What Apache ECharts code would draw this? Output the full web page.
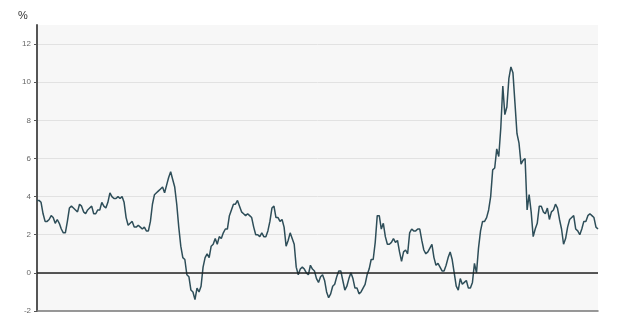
<!DOCTYPE html>
<html>
<head>
<meta charset="utf-8">
<script src="https://cdn.jsdelivr.net/npm/echarts@6/dist/echarts.min.js"></script>
<style>
html,body{margin:0;padding:0;background:#fff;overflow:hidden;}
#c{position:absolute;left:0;top:0;width:617px;height:313px;overflow:hidden;}
</style>
</head>
<body>
<div id="c"></div>
<script>
// Monthly values, Jan 2003 – Feb 2026 (%)
const startYear = 2003;
const v2003 = [3.8, 3.8, 3.7, 3.1, 2.7, 2.7, 2.8, 3.0, 2.9, 2.6, 2.8, 2.6];
const v2004 = [2.3, 2.1, 2.1, 2.7, 3.4, 3.5, 3.4, 3.3, 3.2, 3.6, 3.5, 3.2];
const v2005 = [3.1, 3.3, 3.4, 3.5, 3.1, 3.1, 3.3, 3.3, 3.7, 3.5, 3.4, 3.7];
const v2006 = [4.2, 4.0, 3.9, 3.9, 4.0, 3.9, 4.0, 3.7, 2.9, 2.5, 2.6, 2.7];
const v2007 = [2.4, 2.4, 2.5, 2.4, 2.3, 2.4, 2.2, 2.2, 2.7, 3.6, 4.1, 4.2];
const v2008 = [4.3, 4.4, 4.5, 4.2, 4.6, 5.0, 5.3, 4.9, 4.5, 3.6, 2.4, 1.4];
const v2009 = [0.8, 0.7, -0.1, -0.2, -0.9, -1.0, -1.4, -0.8, -1.0, -0.7, 0.3, 0.8];
const v2010 = [1.0, 0.8, 1.4, 1.5, 1.8, 1.5, 1.9, 1.8, 2.1, 2.3, 2.3, 3.0];
const v2011 = [3.3, 3.6, 3.6, 3.8, 3.5, 3.2, 3.1, 3.0, 3.1, 3.0, 2.9, 2.4];
const v2012 = [2.0, 2.0, 1.9, 2.1, 1.9, 1.9, 2.2, 2.7, 3.4, 3.5, 2.9, 2.9];
const v2013 = [2.7, 2.8, 2.4, 1.4, 1.7, 2.1, 1.8, 1.5, 0.3, -0.1, 0.2, 0.3];
const v2014 = [0.2, 0.0, -0.1, 0.4, 0.2, 0.1, -0.3, -0.5, -0.2, -0.1, -0.4, -1.0];
const v2015 = [-1.3, -1.1, -0.7, -0.6, -0.2, 0.1, 0.1, -0.4, -0.9, -0.7, -0.3, 0.0];
const v2016 = [-0.3, -0.8, -0.8, -1.1, -1.0, -0.8, -0.6, -0.1, 0.2, 0.7, 0.7, 1.6];
const v2017 = [3.0, 3.0, 2.3, 2.6, 1.9, 1.5, 1.5, 1.6, 1.8, 1.6, 1.7, 1.1];
const v2018 = [0.6, 1.1, 1.2, 1.0, 2.1, 2.3, 2.2, 2.2, 2.3, 2.3, 1.7, 1.2];
const v2019 = [1.0, 1.1, 1.3, 1.5, 0.8, 0.4, 0.5, 0.3, 0.1, 0.1, 0.4, 0.8];
const v2020 = [1.1, 0.7, 0.0, -0.7, -0.9, -0.3, -0.6, -0.5, -0.4, -0.8, -0.8, -0.5];
const v2021 = [0.5, 0.0, 1.3, 2.2, 2.7, 2.7, 2.9, 3.3, 4.0, 5.4, 5.5, 6.5];
const v2022 = [6.1, 7.6, 9.8, 8.3, 8.7, 10.2, 10.8, 10.5, 8.9, 7.3, 6.8, 5.7];
const v2023 = [5.9, 6.0, 3.3, 4.1, 3.2, 1.9, 2.3, 2.6, 3.5, 3.5, 3.2, 3.1];
const v2024 = [3.4, 2.8, 3.2, 3.3, 3.6, 3.4, 2.8, 2.3, 1.5, 1.8, 2.4, 2.8];
const v2025 = [2.9, 3.0, 2.3, 2.2, 2.0, 2.3, 2.7, 2.7, 3.0, 3.1, 3.0, 2.9];
const v2026 = [2.4, 2.3];

const values = [].concat(v2003, v2004, v2005, v2006, v2007, v2008, v2009, v2010,
  v2011, v2012, v2013, v2014, v2015, v2016, v2017, v2018, v2019, v2020,
  v2021, v2022, v2023, v2024, v2025, v2026);

const categories = values.map((_, i) =>
  (startYear + Math.floor(i / 12)) + '-' + String(i % 12 + 1).padStart(2, '0'));

const yTicks = [-2, 0, 2, 4, 6, 8, 10, 12];
const unitLabel = '%';

const chart = echarts.init(document.getElementById('c'), null,
  {renderer: 'canvas', width: 617, height: 313});
chart.setOption({
  animation: false,
  textStyle: {fontFamily: 'Liberation Sans, Arial, sans-serif'},
  title: {
    text: unitLabel, left: 13, top: 5,
    textStyle: {fontSize: 11, fontWeight: 'normal', color: '#333'}
  },
  grid: {
    left: 37, right: 19, top: 25, bottom: 2,
    containLabel: false, outerBoundsMode: 'none',
    show: true, backgroundColor: '#f7f7f7', borderWidth: 0
  },
  xAxis: {
    type: 'category', data: categories, boundaryGap: false,
    axisLine: {show: true, onZero: false, lineStyle: {color: '#777', width: 1.5}},
    axisTick: {show: false}, axisLabel: {show: false}, splitLine: {show: false}
  },
  yAxis: {
    type: 'value', min: yTicks[0], max: 13, interval: 2,
    axisLine: {show: true, lineStyle: {color: '#555', width: 2}},
    axisTick: {show: true, length: 3, lineStyle: {color: '#555'}},
    axisLabel: {
      fontSize: 8, color: '#666', margin: 6, showMaxLabel: false,
      formatter: v => (yTicks.indexOf(v) >= 0 ? String(v) : '')
    },
    splitLine: {show: true, showMaxLine: false, showMinLine: false,
      lineStyle: {color: '#e2e2e2', width: 1}}
  },
  series: [{
    type: 'line', data: values, showSymbol: false, symbol: 'none',
    lineStyle: {color: '#2e4e59', width: 1.5},
    markLine: {
      silent: true, symbol: 'none', label: {show: false},
      lineStyle: {color: '#222', width: 1.5, type: 'solid'},
      data: [{yAxis: 0}]
    },
    z: 3
  }]
});
</script>
</body>
</html>
